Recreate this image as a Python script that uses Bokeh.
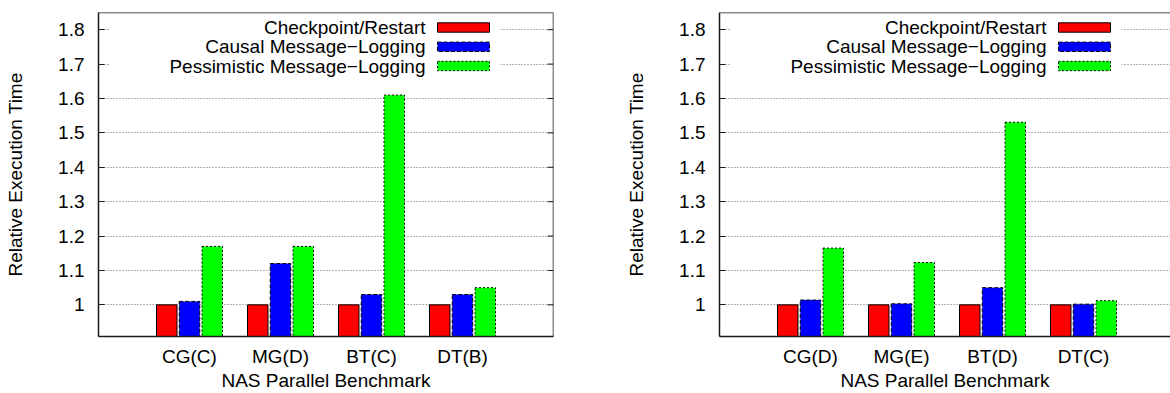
import numpy as np
from bokeh.plotting import figure
from bokeh.layouts import row
from bokeh.models import Range1d, FixedTicker, NumeralTickFormatter, Span
from bokeh.core.properties import value
from bokeh.embed import file_html
from bokeh.resources import INLINE

# ---- data -------------------------------------------------------------
series_names = ["Checkpoint/Restart",
                "Causal Message\u2212Logging",
                "Pessimistic Message\u2212Logging"]

left_categories = ["CG(C)", "MG(D)", "BT(C)", "DT(B)"]
left_checkpoint = [1.0, 1.0, 1.0, 1.0]
left_causal = [1.01, 1.12, 1.03, 1.03]
left_pessimistic = [1.17, 1.17, 1.61, 1.05]

right_categories = ["CG(D)", "MG(E)", "BT(D)", "DT(C)"]
right_checkpoint = [1.0, 1.0, 1.0, 1.0]
right_causal = [1.014, 1.003, 1.05, 1.002]
right_pessimistic = [1.165, 1.123, 1.531, 1.012]

y_ticks = [1.0, 1.1, 1.2, 1.3, 1.4, 1.5, 1.6, 1.7, 1.8]

# ---- style ------------------------------------------------------------
FONT = "Liberation Sans"
FONT_SIZE = "19px"
INK = "#1a1a1a"
fills = ["#ff0000", "#0000ff", "#00ff00"]
edge_dash = ["solid", "4 2", "2 2"]

X_START, X_SPAN = -1.0, 5.0        # category slots across a full frame
Y_START, Y_END = 0.908, 1.85
FRAME_W, FRAME_H = 455, 324
TOP, BOTTOM = 12, 57
BAR_STEP, BAR_W = 0.25, 0.225


def fx(px):
    """frame-relative pixel offset -> x data value"""
    return X_START + px * X_SPAN / FRAME_W


def fy(px):
    """pixel offset below frame top -> y data value"""
    return Y_END - px * (Y_END - Y_START) / FRAME_H


def make_panel(categories, series, width, border_left, border_right, close_right):
    frame_w = width - border_left - border_right
    p = figure(width=width, height=393, output_backend="svg", toolbar_location=None,
               x_range=Range1d(X_START, fx(frame_w)), y_range=Range1d(Y_START, Y_END),
               min_border_left=border_left, min_border_right=border_right,
               min_border_top=TOP, min_border_bottom=BOTTOM,
               outline_line_color=None, background_fill_color="white",
               border_fill_color="white")

    idx = np.arange(len(categories))
    for k, vals in enumerate(series):
        p.vbar(x=idx + (k - 1) * BAR_STEP, top=vals, bottom=0, width=BAR_W,
               fill_color=fills[k], line_color="black", line_width=1,
               line_dash=edge_dash[k])

    # key: opaque box, right-aligned labels, swatches on the right
    p.quad(left=[fx(11)], right=[fx(402)], top=[fy(4)], bottom=[fy(64)],
           fill_color="white", line_color=None)
    rows_px = [15, 34.3, 53.5]
    for k, name in enumerate(series_names):
        yc = fy(rows_px[k])
        p.text(x=[fx(327)], y=[yc], text=[name], text_align="right",
               text_baseline="middle", text_font=value(FONT),
               text_font_size=FONT_SIZE, text_color="black")
        p.quad(left=[fx(339)], right=[fx(391)], top=[fy(rows_px[k] - 4.7)],
               bottom=[fy(rows_px[k] + 4.7)], fill_color=fills[k],
               line_color="black", line_width=1, line_dash=edge_dash[k])

    # axes
    xa = p.xaxis[0]
    xa.ticker = FixedTicker(ticks=list(range(len(categories))))
    xa.major_label_overrides = {i: c for i, c in enumerate(categories)}
    xa.major_tick_in = 0
    xa.major_tick_out = 0
    xa.minor_tick_line_color = None
    xa.major_label_standoff = 9
    xa.axis_label = "NAS Parallel Benchmark"
    xa.axis_label_standoff = 0

    ya = p.yaxis[0]
    ya.ticker = FixedTicker(ticks=y_ticks)
    ya.formatter = NumeralTickFormatter(format="0.[0]")
    ya.major_tick_in = 6
    ya.major_tick_out = 0
    ya.major_tick_line_color = INK
    ya.minor_tick_line_color = None
    ya.major_label_standoff = 14
    ya.axis_label = "Relative Execution Time"
    ya.axis_label_standoff = 29

    for ax in (xa, ya):
        ax.axis_line_color = INK
        ax.axis_line_width = 1.5
        ax.major_label_text_font = FONT
        ax.major_label_text_font_size = FONT_SIZE
        ax.major_label_text_color = "black"
        ax.axis_label_text_font = FONT
        ax.axis_label_text_font_size = FONT_SIZE
        ax.axis_label_text_font_style = "normal"
        ax.axis_label_text_color = "black"

    # frame top (and right side where it is in view) with mirrored ticks
    p.add_layout(Span(location=Y_END, dimension="width", line_color=INK, line_width=1.5))
    if close_right:
        p.add_layout(Span(location=fx(frame_w), dimension="height",
                          line_color=INK, line_width=1.5))
        p.segment(x0=[fx(frame_w - 6)] * len(y_ticks), x1=[fx(frame_w)] * len(y_ticks),
                  y0=y_ticks, y1=y_ticks, line_color=INK, line_width=1)

    p.xgrid.grid_line_color = None
    p.ygrid.ticker = FixedTicker(ticks=y_ticks)
    p.ygrid.grid_line_color = "#666666"
    p.ygrid.grid_line_dash = "1 2"
    p.ygrid.grid_line_width = 1
    return p


left = make_panel(left_categories, [left_checkpoint, left_causal, left_pessimistic],
                  width=600, border_left=98, border_right=47, close_right=True)
right = make_panel(right_categories, [right_checkpoint, right_causal, right_pessimistic],
                   width=570, border_left=119, border_right=0, close_right=False)

layout = row(left, right, spacing=0)
open("out.html", "w").write(file_html(layout, INLINE))
